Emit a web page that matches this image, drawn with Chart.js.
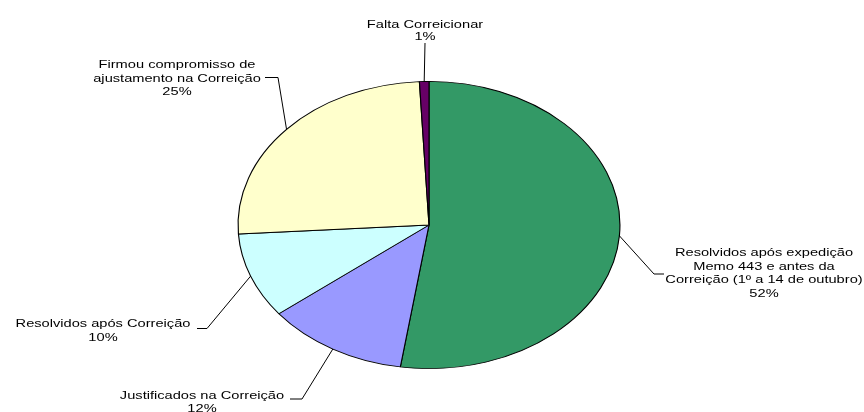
<!DOCTYPE html>
<html>
<head>
<meta charset="utf-8">
<script src="https://cdn.jsdelivr.net/npm/chart.js@4/dist/chart.umd.min.js"></script>
<style>
  html, body { margin: 0; padding: 0; background: #fff; }
  #wrap { width: 864px; height: 412px; position: relative; }
</style>
</head>
<body>
<div id="wrap"><canvas id="c" width="864" height="412"></canvas></div>
<script>
// ---- data ----
const categories = [
  "Resolvidos após expedição\nMemo 443 e antes da\nCorreição (1º a 14 de outubro)",
  "Justificados na Correição",
  "Resolvidos após Correição",
  "Firmou compromisso de\najustamento na Correição",
  "Falta Correicionar"
];
const values = [52.4, 12.0, 9.6, 25.2, 0.8];
const sliceColors = ["#339966", "#9999FF", "#CCFFFF", "#FFFFCC", "#660066"];

// ---- layout (text placement: centre x, first baseline, line step; leader elbows) ----
const labelLayout = [
  { x: 764, y: 256,   lh: 13.7, elbow: [654, 274], end: [664, 274] },
  { x: 202, y: 398.5, lh: 13.0, elbow: [302, 399], end: [290, 399] },
  { x: 103, y: 327.3, lh: 13.4, elbow: [207, 328.5], end: [197, 328.5] },
  { x: 177, y: 68.3,  lh: 13.3, elbow: [278, 77.5],  end: [265, 77.5] },
  { x: 425, y: 27.5,  lh: 12.2, elbow: null,       end: [425, 43] }
];
const H_STRETCH = 1.33; // the whole picture is stretched horizontally

function xScale(chart) {
  return H_STRETCH;
}

const ellipsePlugin = {
  id: 'ellipse',
  beforeDatasetsDraw(chart) {
    const arc = chart.getDatasetMeta(0).data[0];
    const ctx = chart.ctx;
    ctx.save();
    ctx.translate(arc.x, arc.y);
    ctx.scale(xScale(chart), 1);
    ctx.translate(-arc.x, -arc.y);
  },
  afterDatasetsDraw(chart) {
    chart.ctx.restore();
  }
};

const labelPlugin = {
  id: 'labels',
  afterDraw(chart) {
    const ctx = chart.ctx;
    const meta = chart.getDatasetMeta(0);
    const sx = xScale(chart);
    const total = values.reduce((a, b) => a + b, 0);
    ctx.save();
    ctx.strokeStyle = '#000';
    ctx.lineWidth = 1;
    ctx.fillStyle = '#000';
    ctx.font = '11px "Liberation Sans", Arial, sans-serif';
    ctx.textAlign = 'center';
    ctx.textBaseline = 'alphabetic';
    meta.data.forEach((arc, i) => {
      const mid = (arc.startAngle + arc.endAngle) / 2;
      const ex = arc.x + Math.cos(mid) * arc.outerRadius * sx;
      const ey = arc.y + Math.sin(mid) * arc.outerRadius;
      const L = labelLayout[i];
      ctx.beginPath();
      ctx.moveTo(ex, ey);
      if (L.elbow) ctx.lineTo(L.elbow[0], L.elbow[1]);
      ctx.lineTo(L.end[0], L.end[1]);
      ctx.stroke();
      const lines = categories[i].split('\n');
      lines.push(Math.round(values[i] / total * 100) + '%');
      lines.forEach((t, k) => {
        ctx.save();
        ctx.translate(L.x, L.y + k * L.lh);
        ctx.scale(sx, 1);
        ctx.fillText(t, 0, 0);
        ctx.restore();
      });
    });
    ctx.restore();
  }
};

new Chart(document.getElementById('c'), {
  type: 'pie',
  data: {
    labels: categories,
    datasets: [{
      data: values,
      backgroundColor: sliceColors,
      borderColor: '#000',
      borderWidth: 0.85
    }]
  },
  options: {
    responsive: false,
    animation: false,
    layout: { padding: { top: 81, bottom: 43, left: 200, right: 206 } },
    plugins: { legend: { display: false }, tooltip: { enabled: false } }
  },
  plugins: [ellipsePlugin, labelPlugin]
});
</script>
</body>
</html>
